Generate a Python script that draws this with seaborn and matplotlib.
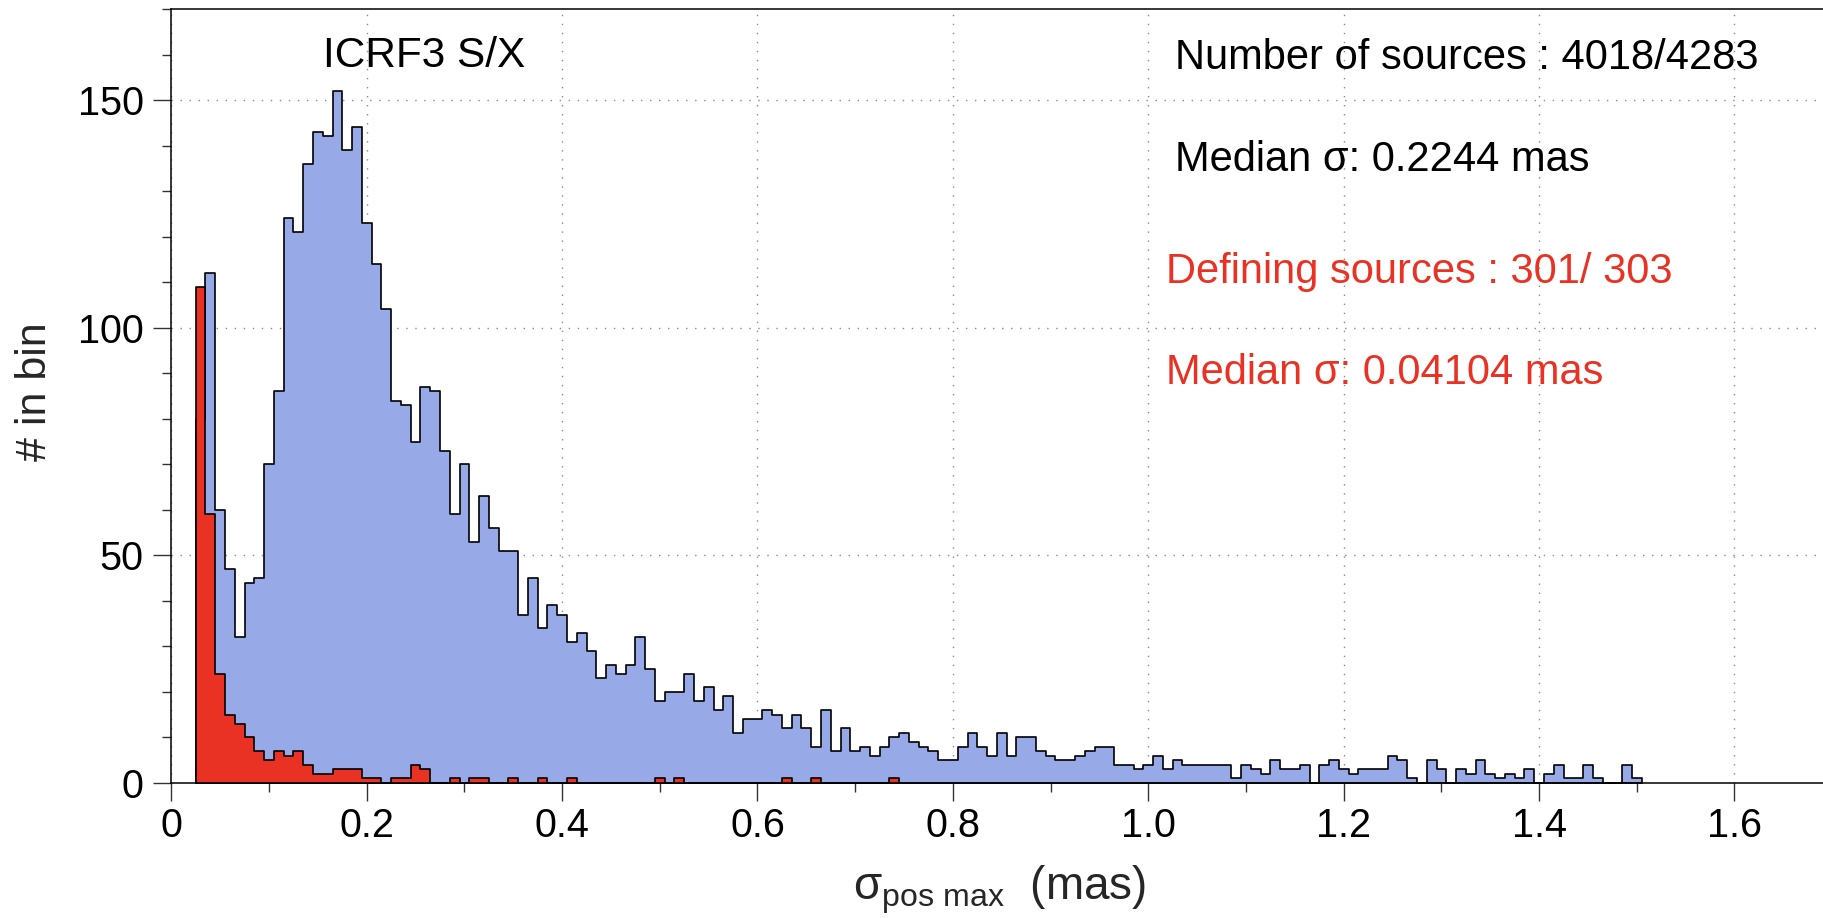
import numpy as np
import pandas as pd
import matplotlib
matplotlib.use("Agg")
import matplotlib.pyplot as plt
from matplotlib.ticker import MultipleLocator, FixedLocator, FixedFormatter
import seaborn as sns

# Histogram binning (mas)
BIN_START = 0.025
BIN_WIDTH = 0.01

# Counts per bin, all sources (bins start at 0.025 mas, width 0.01 mas)
all_counts = [
    80, 112, 60, 47, 32, 44, 45, 70, 86, 124,     # 0.025 - 0.115
    121, 136, 143, 142, 152, 139, 144, 123, 114, 104,  # 0.125 - 0.215
    84, 83, 75, 87, 86, 73, 59, 70, 53, 63,       # 0.225 - 0.315
    56, 51, 51, 37, 45, 34, 39, 37, 31, 33,       # 0.325 - 0.415
    29, 23, 26, 24, 26, 32, 25, 18, 20, 20,       # 0.425 - 0.515
    24, 18, 21, 16, 19, 11, 14, 14, 16, 15,       # 0.525 - 0.615
    12, 15, 12, 8, 16, 7, 12, 7, 8, 6,            # 0.625 - 0.715
    8, 10, 11, 9, 8, 7, 5, 5, 8, 11,              # 0.725 - 0.815
    8, 6, 11, 6, 10, 10, 7, 6, 5, 5,              # 0.825 - 0.915
    6, 7, 8, 8, 4, 4, 3, 4, 6, 3,                 # 0.925 - 1.015
    5, 4, 4, 4, 4, 4, 1, 4, 3, 2,                 # 1.025 - 1.115
    5, 3, 3, 4, 0, 4, 5, 3, 2, 3,                 # 1.125 - 1.215
    3, 3, 6, 5, 1, 0, 5, 3, 0, 3,                 # 1.225 - 1.315
    2, 5, 2, 1, 2, 1, 3, 0, 2, 4,                 # 1.325 - 1.415
    1, 1, 4, 1, 0, 0, 4, 1,                       # 1.425 - 1.495
]

# Counts per bin, defining sources (same bins)
defining_counts = [
    109, 59, 24, 15, 13, 10, 7, 5, 7, 6,          # 0.025 - 0.115
    7, 4, 2, 2, 3, 3, 3, 1, 1, 0,                 # 0.125 - 0.215
    1, 1, 4, 3, 0, 0, 1, 0, 1, 1,                 # 0.225 - 0.315
    0, 0, 1, 0, 0, 1, 0, 0, 1, 0,                 # 0.325 - 0.415
    0, 0, 0, 0, 0, 0, 0, 1, 0, 1,                 # 0.425 - 0.515
    0, 0, 0, 0, 0, 0, 0, 0, 0, 0,                 # 0.525 - 0.615
    1, 0, 0, 1, 0, 0, 0, 0, 0, 0,                 # 0.625 - 0.715
    0, 1,                                         # 0.725 - 0.735
]

x_ticks = [0, 0.2, 0.4, 0.6, 0.8, 1.0, 1.2, 1.4, 1.6]
x_tick_labels = ["0", "0.2", "0.4", "0.6", "0.8", "1.0", "1.2", "1.4", "1.6"]
y_ticks = [0, 50, 100, 150]
y_tick_labels = ["0", "50", "100", "150"]

title_text = "ICRF3 S/X"
all_stats = ["Number of sources : 4018/4283", "Median σ: 0.2244 mas"]
defining_stats = ["Defining sources : 301/ 303", "Median σ: 0.04104 mas"]

BLUE = "#97a9e6"
RED = "#e93224"

sns.set_theme(style="white")
plt.rcParams["font.family"] = ["Liberation Sans", "DejaVu Sans"]
plt.rcParams["mathtext.fontset"] = "custom"
plt.rcParams["mathtext.rm"] = "Liberation Sans"
plt.rcParams["mathtext.it"] = "Liberation Sans"
plt.rcParams["axes.unicode_minus"] = False


def hist_frame(counts):
    left = np.round(BIN_START + BIN_WIDTH * np.arange(len(counts)), 4)
    edges = np.round(np.append(left, left[-1] + BIN_WIDTH), 4).tolist()
    df = pd.DataFrame({"sigma": left + BIN_WIDTH / 2, "count": counts})
    return df, edges


W, H = 1824, 918
fig = plt.figure(figsize=(W / 100, H / 100), dpi=100)
ax_left, ax_bottom, ax_top = 171.3, 783.0, 9.0
ax = fig.add_axes([ax_left / W, 1 - ax_bottom / H, 1 - ax_left / W, (ax_bottom - ax_top) / H])

df_all, edges_all = hist_frame(all_counts)
df_def, edges_def = hist_frame(defining_counts)

sns.histplot(data=df_all, x="sigma", weights="count", bins=edges_all,
             element="step", fill=True, color=BLUE, alpha=1,
             edgecolor="black", linewidth=1.2, ax=ax, zorder=2)
sns.histplot(data=df_def, x="sigma", weights="count", bins=edges_def,
             element="step", fill=True, color=RED, alpha=1,
             edgecolor="black", linewidth=1.2, ax=ax, zorder=3)

ax.set_xlim(0, (W - ax_left) / 977.0)
ax.set_ylim(0, 170)

# Ticks
ax.xaxis.set_major_locator(FixedLocator(x_ticks))
ax.xaxis.set_major_formatter(FixedFormatter(x_tick_labels))
ax.xaxis.set_minor_locator(MultipleLocator(0.1))
ax.yaxis.set_major_locator(FixedLocator(y_ticks))
ax.yaxis.set_major_formatter(FixedFormatter(y_tick_labels))
ax.yaxis.set_minor_locator(MultipleLocator(10))

ax.tick_params(axis="both", which="major", direction="out", length=13, width=1.0,
               color="#333333", labelsize=28.5, labelcolor="black")
ax.tick_params(axis="both", which="minor", direction="out", length=6.5, width=1.0,
               color="#333333")
ax.tick_params(axis="x", which="major", pad=4, bottom=True)
ax.tick_params(axis="x", which="minor", bottom=True)
ax.tick_params(axis="y", which="major", pad=7, left=True)
ax.tick_params(axis="y", which="minor", left=True)

# Spines
for side in ("left", "bottom", "top"):
    ax.spines[side].set_visible(True)
    ax.spines[side].set_color("black")
    ax.spines[side].set_linewidth(1.1)
ax.spines["right"].set_visible(False)

# Dotted grid at major ticks, behind the histograms
ax.set_axisbelow(True)
ax.grid(True, which="major", color="#8a8a8a", linestyle=(0, (1, 5.5)), linewidth=1.0)

# Axis labels
ax.set_ylabel("# in bin", fontsize=31, rotation=90, ha="center", va="center")
ax.yaxis.set_label_coords((35 - ax_left) / (W - ax_left), (ax_bottom - 392) / (ax_bottom - ax_top))
ax.set_xlabel(r"$\mathregular{\sigma_{pos\ max}}$  (mas)", fontsize=33, ha="center", va="baseline")
ax.xaxis.set_label_coords((1000 - ax_left) / (W - ax_left), -(899 - ax_bottom) / (ax_bottom - ax_top))


def axes_xy(px, py):
    return (px - ax_left) / (W - ax_left), (ax_bottom - py) / (ax_bottom - ax_top)


# Title inside the plot
ax.text(*axes_xy(424, 67), title_text, transform=ax.transAxes, fontsize=30.5,
        ha="center", va="baseline", color="black")

# Summary statistics
for txt, py in zip(all_stats, (69, 171)):
    ax.text(*axes_xy(1175, py), txt, transform=ax.transAxes, fontsize=30,
            ha="left", va="baseline", color="black")
for txt, py in zip(defining_stats, (283, 384)):
    ax.text(*axes_xy(1166, py), txt, transform=ax.transAxes, fontsize=30,
            ha="left", va="baseline", color=RED)

fig.savefig("out.png", dpi=100)
